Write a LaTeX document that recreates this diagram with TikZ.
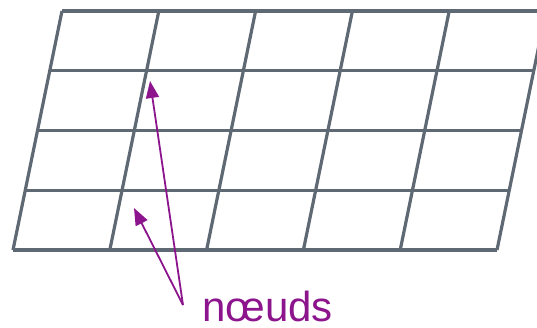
\documentclass[tikz,border=0pt]{standalone}
\usepackage{fontspec}
\setmainfont{Liberation Sans}
\usetikzlibrary{arrows.meta}
\definecolor{gridc}{RGB}{95,105,115}
\definecolor{purp}{RGB}{140,20,140}
\begin{document}
\begin{tikzpicture}[x=1pt,y=-1pt,
  gridline/.style={draw=gridc,line width=3.2pt,line cap=square},
  pointer/.style={draw=purp,line width=1.8pt,-{Triangle[length=17pt,width=13pt]}},
  lbl/.style={text=purp,inner sep=0pt,text depth=0pt,font=\fontsize{42}{48}\selectfont}]
\useasboundingbox (0,0) rectangle (537,327);
\begin{scope}
  \clip (0,0) rectangle (537,327);
  \foreach \i in {0,...,4} {
    \pgfmathsetmacro\yy{11+59.75*\i}
    \pgfmathsetmacro\dx{0.205*(250-\yy)}
    \draw[gridline] (13+\dx,\yy) -- (497+\dx,\yy);
  }
  \foreach \j in {0,...,5} {
    \draw[gridline] (13+96.8*\j,250) -- (62+96.8*\j,11);
  }
\end{scope}
\node[lbl,anchor=base west] (nd) at (202,321) {nœuds};
\coordinate (tail) at (183,305);
\coordinate (tipA) at (134,208);
\coordinate (tipB) at (150,81);
\draw[pointer] (tail) -- (tipA);
\draw[pointer] (tail) -- (tipB);
\end{tikzpicture}
\end{document}
